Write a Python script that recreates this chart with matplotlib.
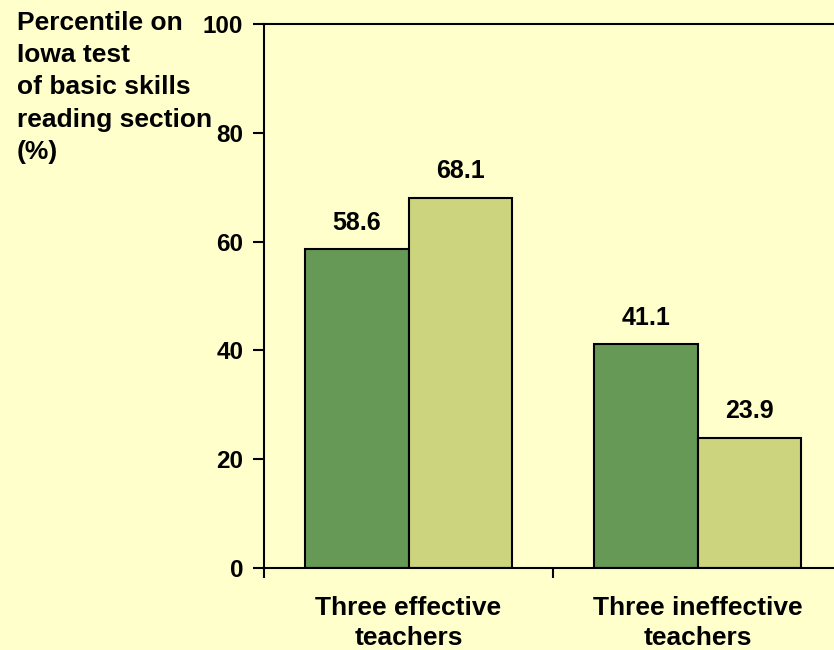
import matplotlib.pyplot as plt
import numpy as np

categories = ["Three effective\nteachers", "Three ineffective\nteachers"]
series_a = [58.6, 41.1]
series_b = [68.1, 23.9]
title_lines = ["Percentile on", "Iowa test", "of basic skills", "reading section", "(%)"]

bg = "#FFFFCC"
dark_green = "#669955"
light_green = "#CCD47D"

plt.rcParams["font.family"] = ["Liberation Sans", "DejaVu Sans"]
plt.rcParams["font.weight"] = "bold"

fig = plt.figure(figsize=(8.34, 6.5), dpi=100, facecolor=bg)
# axes runs a little past the right edge of the figure
ax = fig.add_axes([264 / 834, 1 - 568 / 650, 578 / 834, 544 / 650])
ax.set_facecolor(bg)

x = np.arange(len(categories))
w = 0.358
bars_a = ax.bar(x - w / 2, series_a, w, color=dark_green, edgecolor="black", linewidth=1.5)
bars_b = ax.bar(x + w / 2, series_b, w, color=light_green, edgecolor="black", linewidth=1.5)

for bars, vals in ((bars_a, series_a), (bars_b, series_b)):
    for b, v in zip(bars, vals):
        ax.text(b.get_x() + b.get_width() / 2, v + 4.9, f"{v:.1f}",
                ha="center", va="center", fontsize=18, fontweight="bold")

ax.set_xlim(-0.5, 1.5)
ax.set_ylim(0, 100)
ax.set_yticks(np.arange(0, 101, 20))
ax.set_xticks([-0.5, 0.5, 1.5], minor=False)
ax.set_xticklabels([])
ax.set_xticks(x, minor=True)
ax.set_xticklabels(categories, minor=True, fontsize=19, fontweight="bold",
                   linespacing=1.32)
ax.tick_params(axis="x", which="minor", length=0, pad=20)
ax.tick_params(axis="x", which="major", length=7, width=1.5, direction="out")
ax.tick_params(axis="y", length=8, width=1.5, labelsize=17.5, pad=7)
for t in ax.get_yticklabels():
    t.set_fontweight("bold")

ax.spines["right"].set_visible(False)
for s in ("left", "bottom", "top"):
    ax.spines[s].set_linewidth(1.5)

# y-axis caption, one line at a time
for i, line in enumerate(title_lines):
    fig.text(17 / 834, 1 - (23 + 32.2 * i) / 650, line,
             ha="left", va="center", fontsize=19, fontweight="bold")

fig.savefig("out.png", dpi=100, facecolor=bg)
